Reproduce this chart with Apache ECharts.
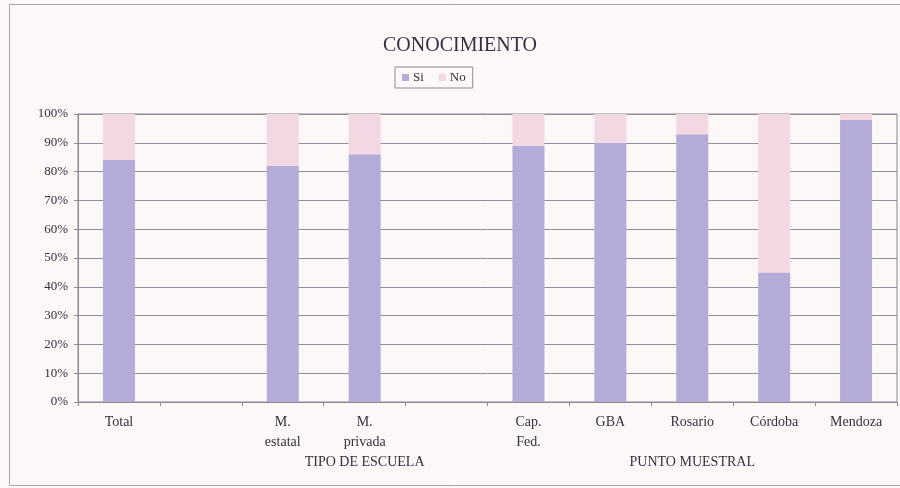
<!DOCTYPE html>
<html>
<head>
<meta charset="utf-8">
<title>CONOCIMIENTO</title>
<script src="https://cdn.jsdelivr.net/npm/echarts@6/dist/echarts.min.js"></script>
<style>
  html, body { margin: 0; padding: 0; background: #fbf8f7; }
  #chart { width: 900px; height: 488px; }
</style>
</head>
<body>
<div id="chart"></div>
<script>
// Categories (blank slots separate the groups)
const categories = ['Total', '', 'M.\nestatal', 'M.\nprivada', '', 'Cap.\nFed.', 'GBA', 'Rosario', 'Córdoba', 'Mendoza'];
// Share answering "Si" / "No" (%)
const siValues = [84, null, 82, 86, null, 89, 90, 93, 45, 98];
const noValues = [16, null, 18, 14, null, 11, 10, 7, 55, 2];
// Group captions under the axis: [label, first category index, last category index]
const groups = [
  ['TIPO DE ESCUELA', 2, 4],
  ['PUNTO MUESTRAL', 5, 9]
];
const yTicks = { min: 0, max: 100, interval: 10 };

const serif = '"Liberation Serif", "DejaVu Serif", serif';
const textColor = '#35303c';
const lineColor = '#8c8a90';

const chart = echarts.init(document.getElementById('chart'), null, { renderer: 'canvas' });

const option = {
  backgroundColor: '#fbf8f7',
  animation: false,
  title: {
    text: 'CONOCIMIENTO',
    left: 455,
    top: 31,
    textAlign: 'center',
    textStyle: { fontFamily: serif, fontSize: 20, fontWeight: 'normal', color: textColor }
  },
  legend: {
    data: ['Si', 'No'],
    left: 395,
    top: 67,
    padding: [4, 7, 4, 7],
    itemWidth: 7,
    itemHeight: 7,
    itemGap: 15,
    borderColor: '#8c8a90',
    borderWidth: 1,
    icon: 'rect',
    textStyle: { fontFamily: serif, fontSize: 13, color: textColor, padding: [0, 0, 0, -1] }
  },
  grid: {
    left: 78, right: 3, top: 114, bottom: 86,
    show: true, borderColor: lineColor, borderWidth: 1, backgroundColor: 'transparent'
  },
  xAxis: {
    type: 'category',
    data: categories,
    axisLine: { lineStyle: { color: lineColor } },
    axisTick: { show: true, length: 4, inside: false, lineStyle: { color: lineColor } },
    axisLabel: {
      interval: 0, margin: 10, lineHeight: 20,
      fontFamily: serif, fontSize: 14, color: textColor
    },
    splitLine: { show: false }
  },
  yAxis: {
    type: 'value',
    min: yTicks.min, max: yTicks.max, interval: yTicks.interval,
    axisLine: { show: true, lineStyle: { color: lineColor } },
    axisTick: { show: true, length: 4, lineStyle: { color: lineColor } },
    axisLabel: {
      formatter: '{value}%', margin: 10,
      fontFamily: serif, fontSize: 13, color: textColor
    },
    splitLine: { lineStyle: { color: '#929096', width: 1 } }
  },
  series: [
    {
      name: 'Si', type: 'bar', stack: 'total', barWidth: 32,
      itemStyle: { color: '#b4abd9' },
      data: siValues
    },
    {
      name: 'No', type: 'bar', stack: 'total', barWidth: 32,
      itemStyle: { color: '#f1d8e3' },
      data: noValues
    }
  ],
  graphic: []
};

chart.setOption(option);

// Outer frame and group captions placed from the axis scale
const groupLabels = groups.map(([text, from, to]) => {
  const x0 = chart.convertToPixel({ xAxisIndex: 0 }, from);
  const x1 = chart.convertToPixel({ xAxisIndex: 0 }, to);
  return {
    type: 'text',
    x: (x0 + x1) / 2,
    y: 462,
    style: {
      text: text, fill: textColor, font: '14px ' + serif,
      textAlign: 'center', textVerticalAlign: 'middle'
    }
  };
});

chart.setOption({
  graphic: [
    {
      type: 'rect',
      shape: { x: 9.5, y: 4.5, width: 900, height: 481 },
      style: { fill: 'none', stroke: '#a9a4ae', lineWidth: 1 },
      silent: true, z: -1
    }
  ].concat(groupLabels)
});
</script>
</body>
</html>
